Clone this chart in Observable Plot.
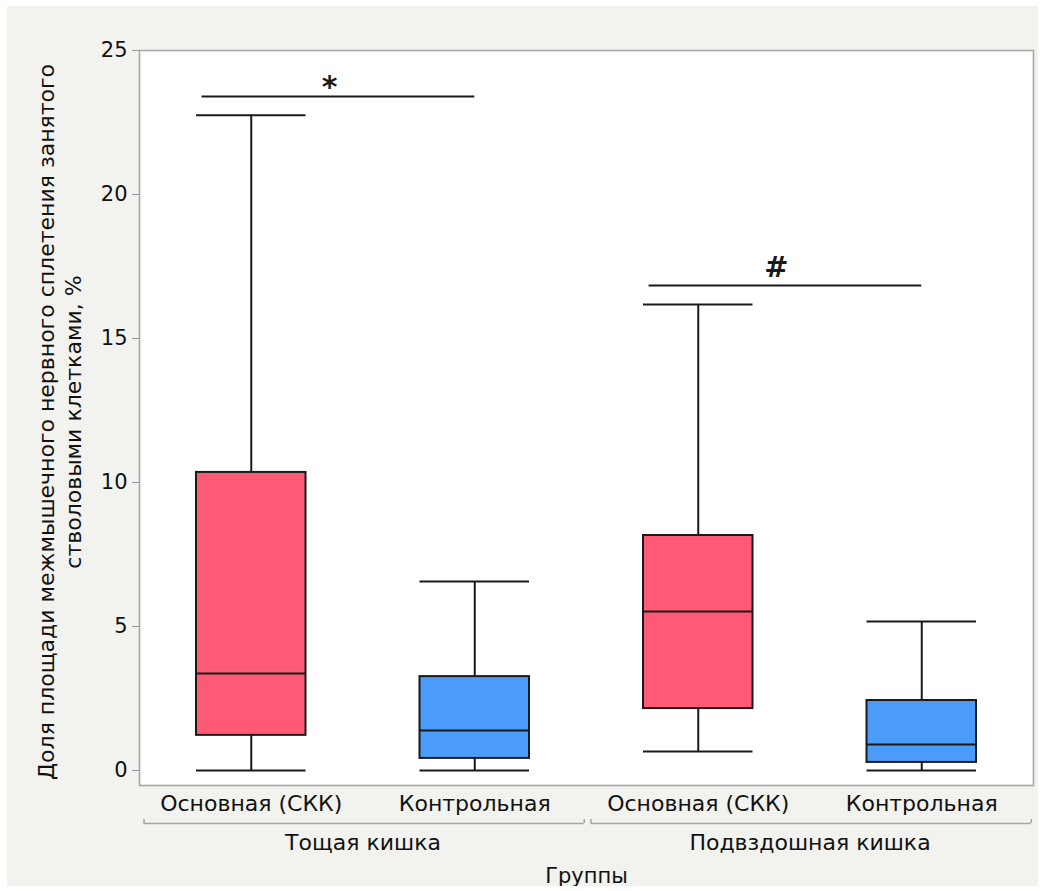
<!DOCTYPE html>
<html><head><meta charset="utf-8">
<script src="https://cdn.jsdelivr.net/npm/d3@7"></script>
<script src="https://cdn.jsdelivr.net/npm/@observablehq/plot@0.6"></script>
<style>
body{margin:0;background:#fff;}
#chart{padding:6px 6px 5px 7px;width:1031px;}
#chart svg{background:#f2f2ee;font-family:"DejaVu Sans",sans-serif;}
</style></head><body><div id="chart"></div>
<script>
// Data
const groups = ["Основная (СКК)", "Контрольная", "Основная (СКК)", "Контрольная"];
const sections = ["Тощая кишка", "Подвздошная кишка"];
const whiskerLow = [0, 0, 0.66, 0];
const q1 = [1.22, 0.42, 2.15, 0.28];
const median = [3.37, 1.39, 5.52, 0.90];
const q3 = [10.35, 3.26, 8.16, 2.43];
const whiskerHigh = [22.75, 6.56, 16.18, 5.17];
const yTicks = [0, 5, 10, 15, 20, 25];
// significance annotations
const sigLabels = ["*", "#"];
const sigFrom = [-0.22, 1.78];
const sigTo = [1.0, 3.0];
const sigLevel = [23.4, 16.84];
const sigLabelX = [0.35, 2.35];
// section brackets (in group index units)
const bracketFrom = [-0.48, 1.52];
const bracketTo = [1.49, 3.49];
const sectionCenter = [0.5, 2.5];

const idx = groups.map((_, i) => i);
const boxes = idx.map(i => ({i, group: groups[i], lo: whiskerLow[i], q1: q1[i], med: median[i], q3: q3[i], hi: whiskerHigh[i]}));
const sig = sigLabels.map((t, i) => ({t, x1: sigFrom[i], x2: sigTo[i], y: sigLevel[i], lx: sigLabelX[i]}));
const brackets = sections.map((s, i) => ({s, x1: bracketFrom[i], x2: bracketTo[i], cx: sectionCenter[i]}));
const bracketEnds = brackets.flatMap(b => [{x: b.x1}, {x: b.x2}]);

const half = 0.245;
const ink = "#1a1a1a";
const lw = 2;
const font = "'DejaVu Sans', sans-serif";

const chart = Plot.plot({
  width: 1031, height: 880,
  marginLeft: 132, marginRight: 5, marginTop: 44, marginBottom: 101,
  style: {fontSize: "21px", fontFamily: font, background: "#f2f2ee", color: "#111"},
  x: {type: "linear", domain: [-0.5, 3.5]},
  y: {domain: [0, 25], insetBottom: 15},
  color: {domain: ["Основная (СКК)", "Контрольная"], range: ["#ff5a75", "#4b9bf8"]},
  marks: [
    Plot.frame({fill: "white", stroke: "#a6a6a6", strokeWidth: 1.6}),
    Plot.axisY({ticks: yTicks, tickSize: 7, tickPadding: 5, stroke: "#9a9a9a", fontSize: 21, label: null}),
    Plot.axisX({ticks: idx, tickFormat: i => groups[i], tickSize: 0, tickPadding: 10, fontSize: 22, label: null}),
    Plot.text(["Доля площади межмышечного нервного сплетения занятого\nстволовыми клетками, %"], {
      frameAnchor: "left", textAnchor: "middle", lineAnchor: "middle", rotate: -90, dx: -81, dy: 4, fontSize: 22, lineHeight: 1.23, fill: "#111"
    }),
    Plot.text(["Группы"], {frameAnchor: "bottom", dy: 97, fontSize: 21, fill: "#111"}),
    // section brackets
    Plot.ruleY(brackets, {y: 0, x1: "x1", x2: "x2", dy: 53, stroke: "#a6a6a6", strokeWidth: 1.6}),
    Plot.ruleX(bracketEnds, {x: "x", y1: 0, y2: 0.14, dy: 53, stroke: "#a6a6a6", strokeWidth: 1.6}),
    Plot.text(brackets, {x: "cx", y: 0, text: "s", dy: 72, fontSize: 22, fill: "#111"}),
    // whiskers
    Plot.ruleX(boxes, {x: "i", y1: "lo", y2: "q1", stroke: ink, strokeWidth: lw}),
    Plot.ruleX(boxes, {x: "i", y1: "q3", y2: "hi", stroke: ink, strokeWidth: lw}),
    Plot.ruleY(boxes, {y: "lo", x1: d => d.i - half, x2: d => d.i + half, stroke: ink, strokeWidth: lw}),
    Plot.ruleY(boxes, {y: "hi", x1: d => d.i - half, x2: d => d.i + half, stroke: ink, strokeWidth: lw}),
    // boxes
    Plot.rect(boxes, {x1: d => d.i - half, x2: d => d.i + half, y1: "q1", y2: "q3", fill: "group", stroke: ink, strokeWidth: lw}),
    Plot.ruleY(boxes, {y: "med", x1: d => d.i - half, x2: d => d.i + half, stroke: ink, strokeWidth: lw}),
    // significance
    Plot.ruleY(sig, {y: "y", x1: "x1", x2: "x2", stroke: ink, strokeWidth: lw}),
    Plot.text(sig, {filter: d => d.t === "*", x: "lx", y: "y", text: "t", dy: -9, fontSize: 30, fontWeight: "bold", fill: ink}),
    Plot.text(sig, {filter: d => d.t === "#", x: "lx", y: "y", text: "t", dy: -18, fontSize: 29, fontWeight: "bold", fill: ink})
  ]
});
document.getElementById("chart").append(chart);
</script></body></html>
